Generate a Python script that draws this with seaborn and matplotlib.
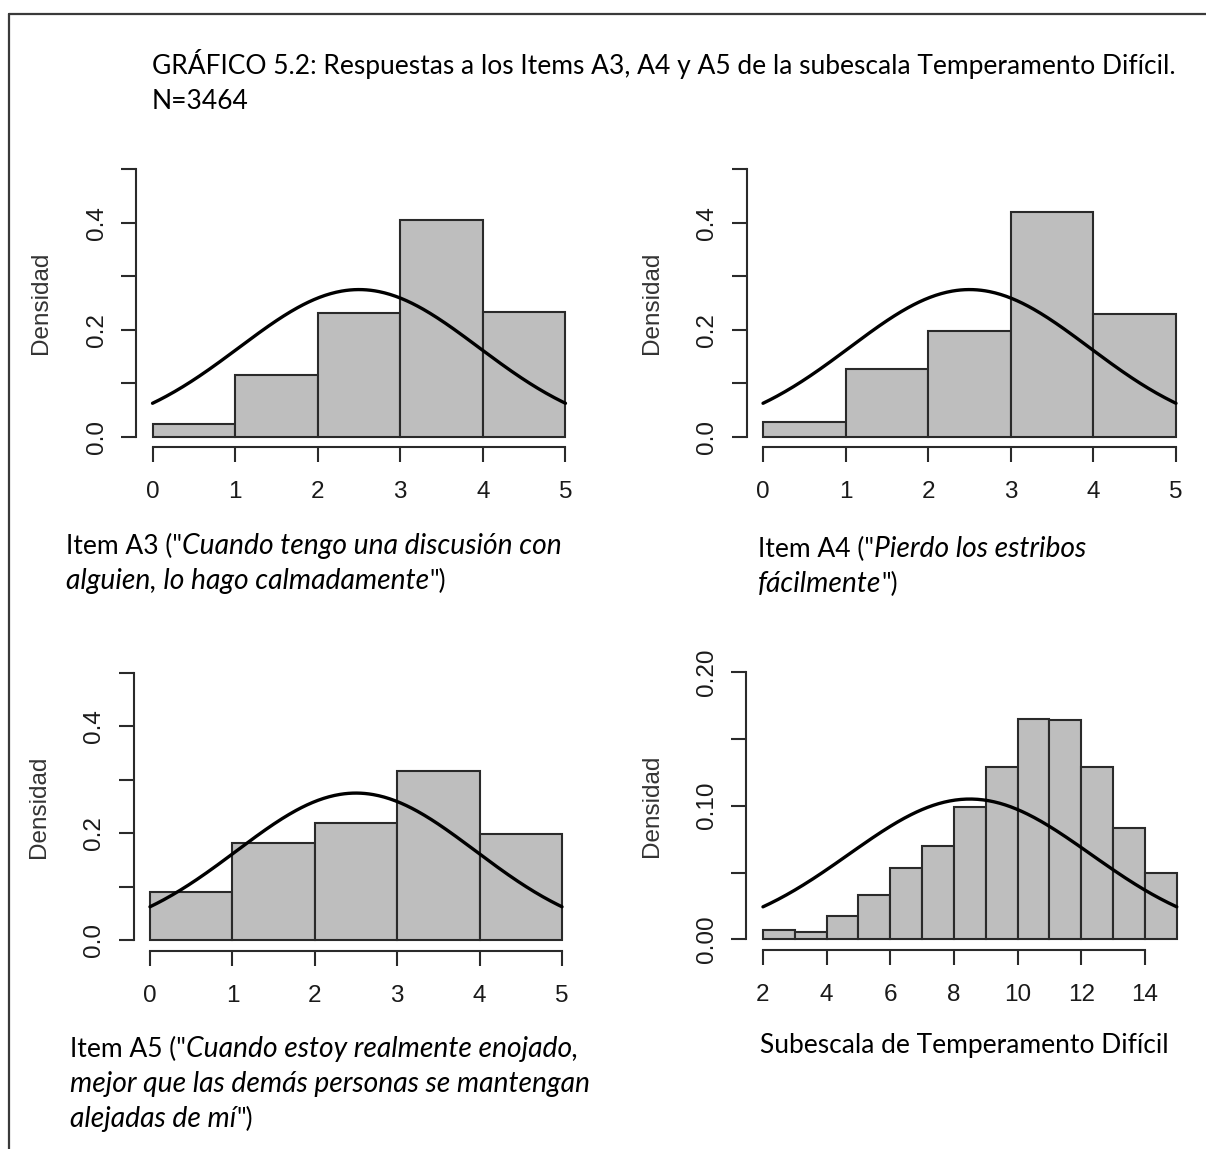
import numpy as np
import pandas as pd
import seaborn as sns
import matplotlib
matplotlib.use("Agg")
import matplotlib.pyplot as plt
from matplotlib.lines import Line2D

# ---------------- data ----------------
item_edges = [0, 1, 2, 3, 4, 5]
a3_density = [0.023, 0.115, 0.231, 0.405, 0.233]
a4_density = [0.028, 0.127, 0.198, 0.420, 0.230]
a5_density = [0.089, 0.181, 0.219, 0.316, 0.199]

scale_edges = [2, 3, 4, 5, 6, 7, 8, 9, 10, 11, 12, 13, 14, 15]
scale_density = [0.0068, 0.0058, 0.0173, 0.0335, 0.053, 0.070, 0.099,
                 0.129, 0.165, 0.164, 0.129, 0.083, 0.0495]

# fitted normal curves (mean, sd)
item_curve = (2.5, 1.45)
scale_curve = (8.5, 3.8)

item_xticks = [0, 1, 2, 3, 4, 5]
item_yticks = [0.0, 0.1, 0.2, 0.3, 0.4, 0.5]
item_yticklabels = ["0.0", "", "0.2", "", "0.4", ""]
scale_xticks = [2, 4, 6, 8, 10, 12, 14]
scale_yticks = [0.00, 0.05, 0.10, 0.15, 0.20]
scale_yticklabels = ["0.00", "", "0.10", "", "0.20"]

title_lines = ["GRÁFICO 5.2: Respuestas a los Items A3, A4 y A5 de la subescala Temperamento Difícil.",
               "N=3464"]
ylabel = "Densidad"
label_a3 = [[("Item A3 (\"", "normal"), ("Cuando tengo una discusión con", "italic")],
            [("alguien, lo hago calmadamente", "italic"), ("\")", "normal")]]
label_a4 = [[("Item A4 (\"", "normal"), ("Pierdo los estribos", "italic")],
            [("fácilmente", "italic"), ("\")", "normal")]]
label_a5 = [[("Item A5 (\"", "normal"), ("Cuando estoy realmente enojado,", "italic")],
            [("mejor que las demás personas se mantengan", "italic")],
            [("alejadas de mí", "italic"), ("\")", "normal")]]
label_scale = [[("Subescala de Temperamento Difícil", "normal")]]

# ---------------- style ----------------
sns.set_theme(style="ticks")
plt.rcParams["font.family"] = ["Liberation Sans", "DejaVu Sans"]

W, H = 1206, 1149
fig = plt.figure(figsize=(W / 100, H / 100), dpi=100)
fig.patch.set_facecolor("white")

AX_COLOR = "#2a2a2a"
BAR_FILL = "#BEBEBE"
TICK_FS = 17.5
TEXT_FAMILY = ["Lato", "DejaVu Sans"]
TEXT_FS = {"normal": 19, "italic": 20.3}


def add_axes_px(left, top, right, bottom):
    return fig.add_axes([left / W, 1 - bottom / H, (right - left) / W, (bottom - top) / H])


def draw_panel(ax, edges, dens, curve, xticks, yticks, yticklabels):
    edges = [float(e) for e in edges]
    centers = [(a + b) / 2 for a, b in zip(edges[:-1], edges[1:])]
    df = pd.DataFrame({"x": centers, "w": list(dens)})
    sns.histplot(data=df, x="x", weights="w", bins=edges, stat="count", ax=ax,
                 color=BAR_FILL, edgecolor=AX_COLOR, linewidth=1.5, alpha=1.0)
    mu, sd = curve
    xs = np.linspace(edges[0], edges[-1], 300)
    ys = np.exp(-0.5 * ((xs - mu) / sd) ** 2) / (sd * np.sqrt(2 * np.pi))
    sns.lineplot(x=xs, y=ys, ax=ax, color="black", linewidth=2.4)
    span_x = edges[-1] - edges[0]
    ax.set_xlim(edges[0] - 0.04 * span_x, edges[-1] + 0.04 * span_x)
    ax.set_ylim(yticks[0] - 0.04 * yticks[-1], yticks[-1] * 1.04)
    ax.set_xticks(xticks)
    ax.set_xticklabels([str(t) for t in xticks])
    ax.set_yticks(yticks)
    ax.set_yticklabels(yticklabels)
    for s in ("top", "right"):
        ax.spines[s].set_visible(False)
    ax.spines["left"].set_bounds(yticks[0], yticks[-1])
    ax.spines["bottom"].set_bounds(xticks[0], xticks[-1])
    for s in ("left", "bottom"):
        ax.spines[s].set_color(AX_COLOR)
        ax.spines[s].set_linewidth(1.5)
    ax.tick_params(axis="both", length=10.5, width=1.5, color=AX_COLOR,
                   labelsize=TICK_FS, labelcolor="#1a1a1a")
    ax.tick_params(axis="x", pad=14)
    ax.tick_params(axis="y", pad=10)
    for lab in ax.get_yticklabels():
        lab.set_rotation(90)
        lab.set_va("center")
    ax.set_xlabel("")
    ax.set_ylabel(ylabel, fontsize=17.5, color="#333333", labelpad=24)
    ax.set_facecolor("white")
    ax.grid(False)


ax1 = add_axes_px(136, 158.8, 582, 447.2)
draw_panel(ax1, item_edges, a3_density, item_curve, item_xticks, item_yticks, item_yticklabels)
ax2 = add_axes_px(746.5, 158.8, 1192.5, 447.2)
draw_panel(ax2, item_edges, a4_density, item_curve, item_xticks, item_yticks, item_yticklabels)
ax3 = add_axes_px(133.5, 662.3, 578.5, 950.7)
draw_panel(ax3, item_edges, a5_density, item_curve, item_xticks, item_yticks, item_yticklabels)
ax4 = add_axes_px(746.4, 661.4, 1193.3, 950.0)
draw_panel(ax4, scale_edges, scale_density, scale_curve, scale_xticks, scale_yticks, scale_yticklabels)

# frame around the figure (partly outside the image)
fig.add_artist(Line2D([9 / W, 1.0], [1 - 14 / H, 1 - 14 / H], transform=fig.transFigure,
                      color="#3a3a3a", linewidth=1.6))
fig.add_artist(Line2D([9 / W, 9 / W], [1 - 14 / H, 0.0], transform=fig.transFigure,
                      color="#3a3a3a", linewidth=1.6))

renderer = fig.canvas.get_renderer()


def draw_rich(x_px, baseline_px, pieces):
    x = x_px
    for text, style in pieces:
        t = fig.text(x / W, 1 - baseline_px / H, text, fontsize=TEXT_FS[style], fontstyle=style,
                     family=TEXT_FAMILY, color="black", ha="left", va="baseline")
        bb = t.get_window_extent(renderer)
        x = bb.x1


def draw_block(x_px, first_baseline, lines, step=35):
    for i, line in enumerate(lines):
        draw_rich(x_px, first_baseline + i * step, line)


draw_rich(152, 74, [(title_lines[0], "normal")])
draw_rich(152, 109, [(title_lines[1], "normal")])
draw_block(66, 554, label_a3)
draw_block(758, 557, label_a4)
draw_block(70, 1056.7, label_a5)
draw_block(760, 1053, label_scale)

fig.savefig("out.png", dpi=100, facecolor="white")
